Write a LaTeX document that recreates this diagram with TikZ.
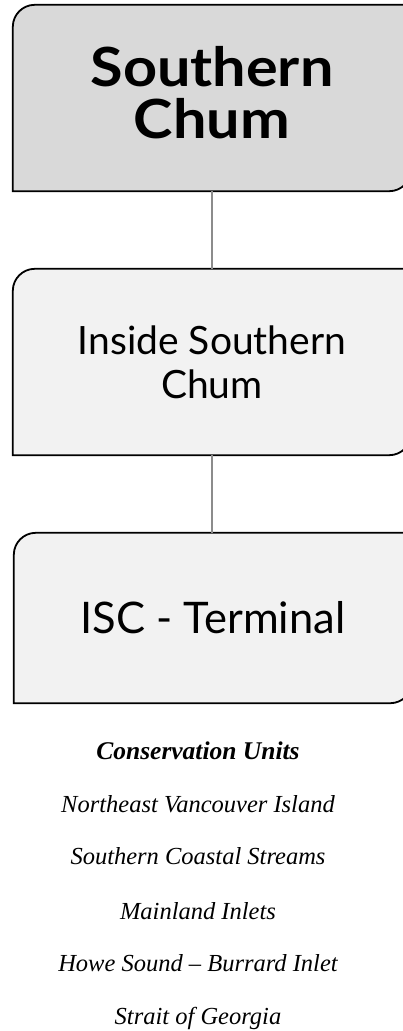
\documentclass[tikz,border=0pt]{standalone}
\usepackage{fontspec}
\usepackage{xcolor}
\usetikzlibrary{backgrounds,positioning}
\setsansfont{Lato}
\newfontfamily\titlefont[FakeStretch=1.1]{Lato Bold}
\newfontfamily\unitfont[Ligatures=TeX]{Liberation Serif}
\definecolor{groupgray}{RGB}{217,217,217}
\definecolor{levelgray}{RGB}{242,242,242}
\definecolor{linkgray}{RGB}{140,140,140}
% outline with rounded top-left and bottom-right corners: #1 node, #2 fill
\newcommand{\tabframe}[2]{%
  \draw[frame,fill=#2] ([yshift=-22pt]#1.north west) -- (#1.south west)
    -- ([xshift=-22pt]#1.south east) arc[start angle=-90,end angle=0,radius=22pt]
    -- (#1.north east) -- ([xshift=22pt]#1.north west)
    arc[start angle=90,end angle=180,radius=22pt] -- cycle;}

\begin{document}
\begin{tikzpicture}[x=1pt,y=1pt,
  level/.style={minimum width=398pt,minimum height=186pt,inner sep=0pt,
    align=center,font=\sffamily\fontsize{39}{44}\selectfont},
  frame/.style={draw=black,line width=1.8pt},
  link/.style={draw=linkgray,line width=2pt},
  cu/.style={anchor=base,font=\unitfont\itshape\fontsize{24.5}{27}\selectfont}
]
\useasboundingbox (0,0) rectangle (403,-1031);

\node[level,font=\titlefont\fontsize{54}{52}\selectfont,text depth=11pt]
  (sc) at (212,-98) {Southern\\Chum};
\node[level] (isc) at (212,-362) {Inside Southern\\Chum};
\node[level,minimum height=170pt,font=\sffamily\fontsize{43.5}{44}\selectfont]
  (term) at (213,-618) {ISC - Terminal};

\begin{scope}[on background layer]
  \tabframe{sc}{groupgray}
  \tabframe{isc}{levelgray}
  \tabframe{term}{levelgray}
  \draw[link] (sc.south) -- (isc.north);
  \draw[link] (isc.south) -- (isc.south |- term.north);
\end{scope}

% conservation units
\node[cu,font=\unitfont\bfseries\itshape\fontsize{25.5}{27}\selectfont]
  (cuhead) at (198,-759) {Conservation Units};
\node[cu] (cu1) at (198,-812) {Northeast Vancouver Island};
\node[cu] (cu2) at (198,-864) {Southern Coastal Streams};
\node[cu] (cu3) at (198,-919) {Mainland Inlets};
\node[cu] (cu4) at (198,-971) {Howe Sound -- Burrard Inlet};
\node[cu] (cu5) at (198,-1024) {Strait of Georgia};
\end{tikzpicture}
\end{document}
